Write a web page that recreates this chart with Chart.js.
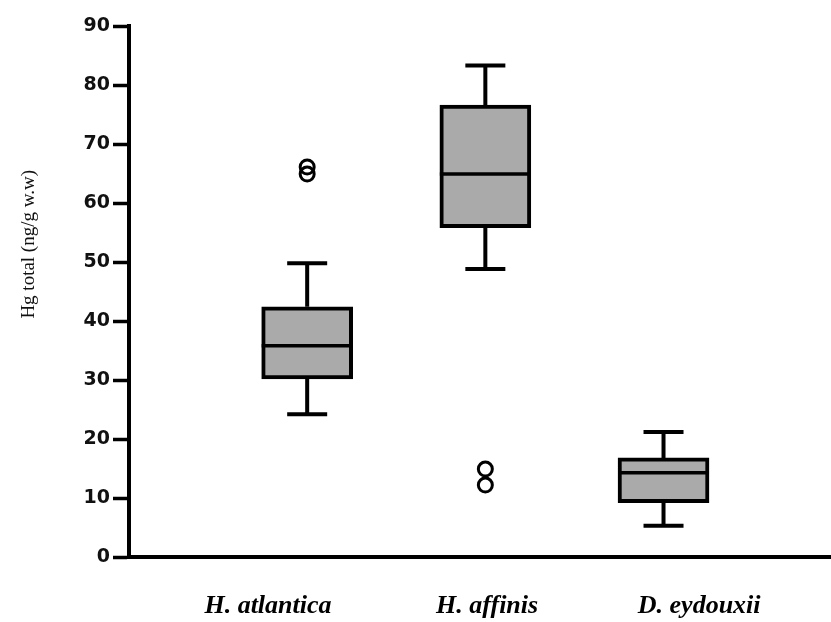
<!DOCTYPE html>
<html>
<head>
<meta charset="utf-8">
<script src="https://cdn.jsdelivr.net/npm/chart.js@4"></script>
<style>
  html, body { margin: 0; padding: 0; background: #fff; }
  canvas { display: block; }
</style>
</head>
<body>
<canvas id="hgChart" width="831" height="622"></canvas>
<script>
// Especies e posicoes no eixo x
const species = ['H. atlantica', 'H. affinis', 'D. eydouxii'];
const positions = [1, 2, 3];
const labelPositions = [0.78, 2.01, 3.2];

// Resumo de cada caixa (ng/g w.w)
const whiskerLow = [24.2, 48.8, 5.3];
const quartile1 = [30.2, 55.8, 9.2];
const medians = [35.8, 64.9, 14.3];
const quartile3 = [42.4, 76.6, 16.8];
const whiskerHigh = [49.8, 83.3, 21.2];

// Valores atipicos
const outlierX = [1, 1, 2, 2];
const outlierY = [66.1, 64.9, 14.9, 12.2];

const yTitle = 'Hg total (ng/g w.w)';

const BOX_WIDTH = 91;
const CAP_WIDTH = 40;

// Bigodes, tampas e mediana desenhados por cima das caixas
const boxPlotLines = {
    id: 'boxPlotLines',
    afterDatasetsDraw(chart) {
        const { ctx, scales: { x, y } } = chart;
        ctx.save();
        ctx.strokeStyle = '#000';
        ctx.lineWidth = 4;
        ctx.lineCap = 'butt';
        positions.forEach((pos, i) => {
            const px = x.getPixelForValue(pos);
            const top = y.getPixelForValue(whiskerHigh[i]);
            const bottom = y.getPixelForValue(whiskerLow[i]);
            const q3 = y.getPixelForValue(quartile3[i]);
            const q1 = y.getPixelForValue(quartile1[i]);
            const med = y.getPixelForValue(medians[i]);

            ctx.beginPath();
            ctx.moveTo(px, q3); ctx.lineTo(px, top);
            ctx.moveTo(px - CAP_WIDTH / 2, top); ctx.lineTo(px + CAP_WIDTH / 2, top);
            ctx.moveTo(px, q1); ctx.lineTo(px, bottom);
            ctx.moveTo(px - CAP_WIDTH / 2, bottom); ctx.lineTo(px + CAP_WIDTH / 2, bottom);
            ctx.stroke();

            ctx.lineWidth = 3.5;
            ctx.beginPath();
            ctx.moveTo(px - BOX_WIDTH / 2, med); ctx.lineTo(px + BOX_WIDTH / 2, med);
            ctx.stroke();
            ctx.lineWidth = 4;
        });
        ctx.restore();
    }
};

// Titulo do eixo y (rotacionado)
const yAxisTitle = {
    id: 'yAxisTitle',
    afterDraw(chart) {
        const { ctx, scales: { y } } = chart;
        ctx.save();
        ctx.translate(y.left + 29, y.getPixelForValue(53));
        ctx.rotate(-Math.PI / 2);
        ctx.font = '19px "Liberation Serif", "Times New Roman", serif';
        ctx.fillStyle = '#111';
        ctx.textAlign = 'center';
        ctx.textBaseline = 'middle';
        ctx.fillText(yTitle, 0, 0);
        ctx.restore();
    }
};

const ctx = document.getElementById('hgChart').getContext('2d');

new Chart(ctx, {
    type: 'bar',
    data: {
        datasets: [{
            type: 'bar',
            data: positions.map((p, i) => ({ x: p, y: [quartile1[i], quartile3[i]] })),
            backgroundColor: '#aaaaaa',
            borderColor: '#000',
            borderWidth: 4,
            borderSkipped: false,
            barThickness: BOX_WIDTH
        }, {
            type: 'scatter',
            data: outlierX.map((p, i) => ({ x: p, y: outlierY[i] })),
            pointStyle: 'circle',
            pointRadius: 7,
            backgroundColor: 'rgba(255,255,255,0)',
            borderColor: '#000',
            borderWidth: 3
        }]
    },
    options: {
        responsive: false,
        animation: false,
        layout: { autoPadding: false, padding: { top: 26, right: 0, left: 0, bottom: 0 } },
        plugins: { legend: { display: false }, tooltip: { enabled: false } },
        scales: {
            x: {
                type: 'linear',
                offset: false,
                min: 0,
                max: 3.94,
                grid: { display: false, drawTicks: false },
                border: { display: true, color: '#000', width: 4 },
                afterBuildTicks: (scale) => {
                    scale.ticks = labelPositions.map(v => ({ value: v }));
                },
                afterFit: (scale) => { scale.height = 65; scale.paddingRight = 0; },
                ticks: {
                    autoSkip: false,
                    maxRotation: 0,
                    padding: 34,
                    color: '#000',
                    font: { family: '"Liberation Serif", "Times New Roman", serif', size: 26, weight: 'bold', style: 'italic' },
                    callback: (value, index) => species[index]
                }
            },
            y: {
                min: 0,
                max: 90,
                grid: { drawOnChartArea: false, drawTicks: true, tickLength: 16, tickWidth: 3.5, tickColor: '#000' },
                border: { display: true, color: '#000', width: 4 },
                afterFit: (scale) => { scale.width = 129; },
                ticks: {
                    stepSize: 10,
                    padding: 3,
                    color: '#111',
                    font: { family: '"DejaVu Sans", Verdana, sans-serif', size: 19, weight: 'bold' }
                }
            }
        }
    },
    plugins: [boxPlotLines, yAxisTitle]
});
</script>
</body>
</html>
